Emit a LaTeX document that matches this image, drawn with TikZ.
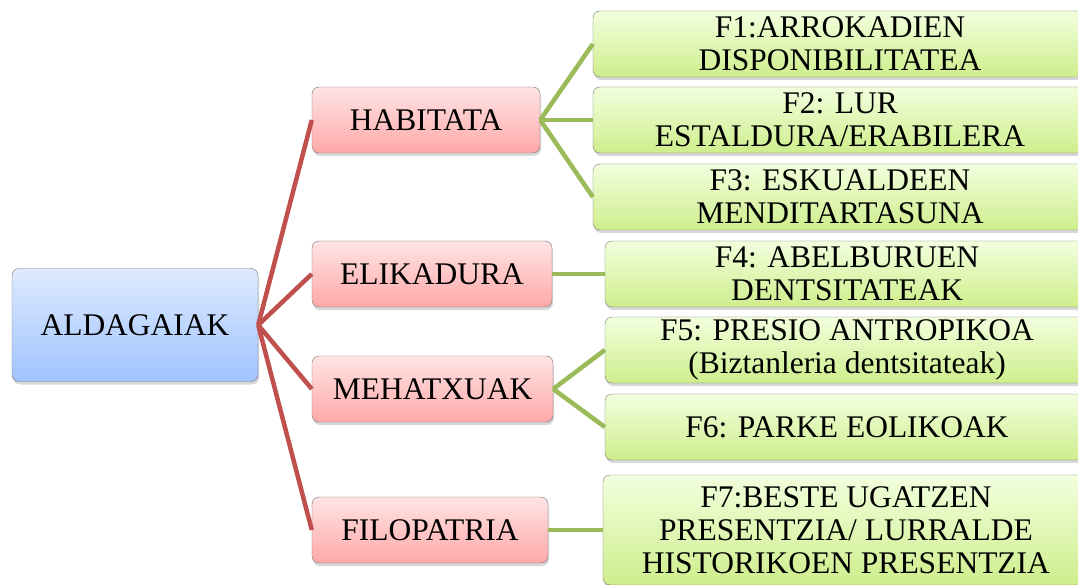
\documentclass[tikz,border=0pt]{standalone}
\usepackage{fontspec}
\setmainfont{Liberation Serif}
\usetikzlibrary{shadows}

\definecolor{bluetop}{RGB}{222,234,255}
\definecolor{bluebot}{RGB}{160,196,255}
\definecolor{redtop}{RGB}{255,228,228}
\definecolor{redbot}{RGB}{255,168,168}
\definecolor{greentop}{RGB}{242,255,222}
\definecolor{greenbot}{RGB}{206,238,140}
\definecolor{redlink}{RGB}{192,80,77}
\definecolor{greenlink}{RGB}{155,187,89}

\tikzset{
  box/.style={draw=black!55, rounded corners=7pt, align=center, inner sep=0pt,
    font=\fontsize{31.5}{33}\selectfont,
    drop shadow={opacity=0.3, shadow xshift=1pt, shadow yshift=-3pt}},
  rootbox/.style={box, top color=bluetop, bottom color=bluebot},
  catbox/.style={box, top color=redtop, bottom color=redbot, minimum height=66pt},
  factbox/.style={box, top color=greentop, bottom color=greenbot, minimum height=66pt},
  redlink/.style={draw=redlink, line width=4.5pt},
  greenlink/.style={draw=greenlink, line width=4.5pt}
}

\begin{document}
\begin{tikzpicture}[x=1pt,y=-1pt]
  \clip (0,0) rectangle (1078,585);
  \fill[white] (0,0) rectangle (1078,585);
  % root
  \node[rootbox, minimum width=246pt, minimum height=113pt] (root) at (135,325) {ALDAGAIAK};
  % categories
  \node[catbox, minimum width=228pt] (hab) at (426,120) {HABITATA};
  \node[catbox, minimum width=240pt] (eli) at (432,274) {ELIKADURA};
  \node[catbox, minimum width=241pt] (meh) at (432.5,389) {MEHATXUAK};
  \node[catbox, minimum width=236pt] (fil) at (430,530) {FILOPATRIA};
  % factors
  \node[factbox, minimum width=494pt] (f1) at (840,44) {F1:ARROKADIEN\\DISPONIBILITATEA};
  \node[factbox, minimum width=494pt] (f2) at (840,120) {F2: LUR\\ESTALDURA/ERABILERA};
  \node[factbox, minimum width=494pt] (f3) at (840,197) {F3: ESKUALDEEN\\MENDITARTASUNA};
  \node[factbox, minimum width=484pt] (f4) at (847,274) {F4: ABELBURUEN\\DENTSITATEAK};
  \node[factbox, minimum width=484pt] (f5) at (847,350) {F5: PRESIO ANTROPIKOA\\(Biztanleria dentsitateak)};
  \node[factbox, minimum width=484pt] (f6) at (847,427) {F6: PARKE EOLIKOAK};
  \node[factbox, minimum width=486pt, minimum height=110pt] (f7) at (846,530) {F7:BESTE UGATZEN\\PRESENTZIA/ LURRALDE\\HISTORIKOEN PRESENTZIA};

  \path[redlink]
  (root.east) edge (hab.west)
  edge (eli.west)
  edge (meh.west)
  edge (fil.west);
  \path[greenlink]
  (hab.east) edge (f1.west)
  edge (f2.west)
  edge (f3.west)
  (eli.east) edge (f4.west)
  (meh.east) edge (f5.west)
  edge (f6.west)
  (fil.east) edge (f7.west);
\end{tikzpicture}
\end{document}
